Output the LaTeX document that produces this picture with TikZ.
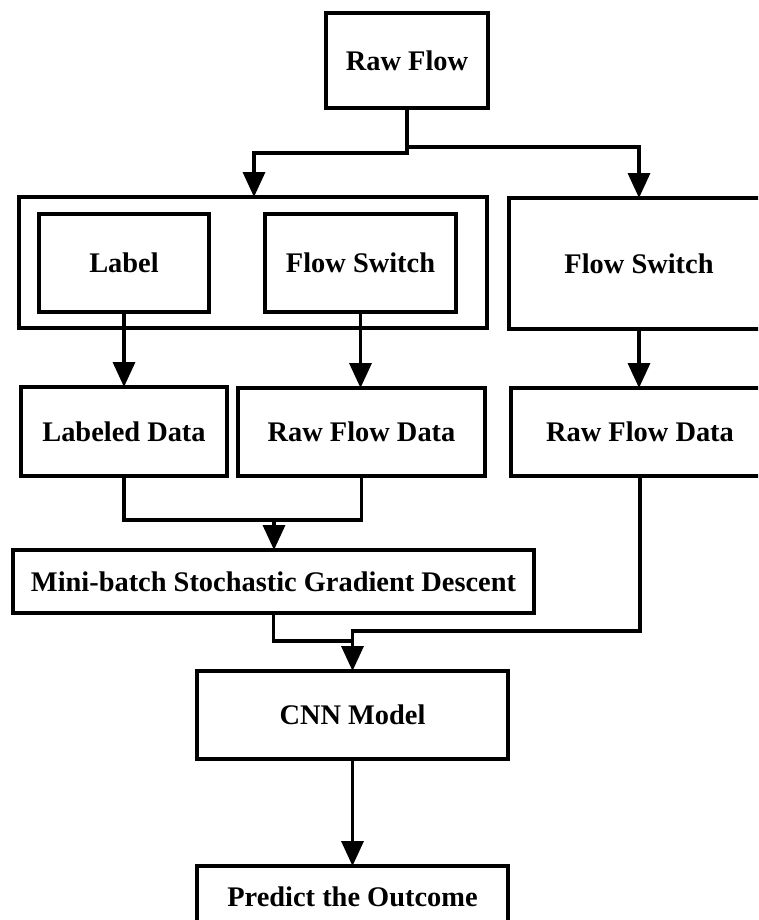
\documentclass[tikz,border=0pt]{standalone}
\usepackage{fontspec}
\setmainfont{Liberation Serif}
\usetikzlibrary{arrows.meta,fit}
\begin{document}
\begin{tikzpicture}[x=0.75pt,y=-0.75pt]
\tikzset{
  box/.style={draw, line width=3pt, inner sep=0pt, outer sep=0pt},
  txt/.style={font=\fontsize{21.3}{25}\selectfont\bfseries, inner sep=0pt, anchor=center},
  link/.style={line width=2.6pt},
  arr/.style={link, -{Triangle[length=18.75pt,width=16.5pt]}},
}
\useasboundingbox (0,0) rectangle (758,920);
\fill[white] (0,0) rectangle (758,920);
\clip (0,0) rectangle (758,920);

% boxes, each with its caption set at the centre
\node[box, fit={(326,13) (488,108)}, label={[txt]center:Raw Flow}] (raw) {};
\node[box, fit={(19,197) (487,328)}] (grp) {};
\node[box, fit={(39,214) (209,312)}, label={[txt]center:Label}] (lab) {};
\node[box, fit={(265,214) (456,312)}, label={[txt]center:Flow Switch}] (ifs) {};
\node[box, fit={(509,198) (769,329)}, label={[txt]center:Flow Switch}] (rfs) {};
\node[box, fit={(21,387) (227,476)}, label={[txt]center:Labeled Data}] (ldat) {};
\node[box, fit={(238,388) (485,476)}, label={[txt]center:Raw Flow Data}] (mrfd) {};
\node[box, fit={(511,388) (769,476)}, label={[txt]center:Raw Flow Data}] (rrfd) {};
\node[box, fit={(13,550) (534,613)}, label={[txt]center:Mini-batch Stochastic Gradient Descent}] (mb) {};
\node[box, fit={(197,671) (508,759)}, label={[txt]center:CNN Model}] (cnn) {};
\node[box, fit={(197,866) (508,928)}, label={[txt]center:Predict the Outcome}] (pred) {};

% junction points
\coordinate (jl) at (254,153);
\coordinate (jr) at (407,147);
\coordinate (mj) at (274,520);
\coordinate (ml) at (352.5,641);
\coordinate (cj) at (352.5,631);

% connectors
\draw[arr] (raw.south) |- (jl) -- (jl |- grp.north);
\draw[arr] (jr) -| (rfs.north);
\draw[arr] (lab.south) -- (ldat.north);
\draw[arr] (ifs.south) -- (ifs.south |- mrfd.north);
\draw[arr] (rfs.south) -- (rfs.south |- rrfd.north);
\draw[link] (ldat.south) |- (mj) -| (mrfd.south);
\draw[arr] (mj) -- (mj |- mb.north);
\draw[link] (mb.south) |- (ml);
\draw[arr] (rrfd.south) |- (cj) -- (cnn.north);
\draw[arr] (cnn.south) -- (pred.north);
\end{tikzpicture}
\end{document}
